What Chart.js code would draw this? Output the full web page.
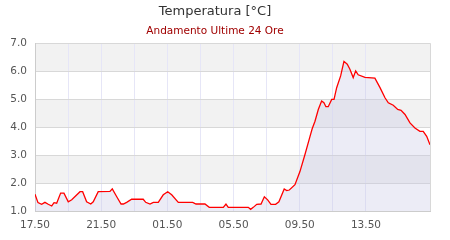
<!DOCTYPE html>
<html>
<head>
<meta charset="utf-8">
<script src="https://cdn.jsdelivr.net/npm/chart.js@4/dist/chart.umd.min.js"></script>
<style>
  html, body { margin: 0; padding: 0; background: #fff; }
</style>
</head>
<body>
<canvas id="tempChart" width="450" height="240"></canvas>
<script>
// ore trascorse dalle 17.50 (asse x) e temperature
const hours = [0, 0.18, 0.40, 0.60, 0.80, 1.01, 1.15, 1.31, 1.55, 1.75, 2.01, 2.22, 2.72, 2.88, 3.12, 3.37, 3.52, 3.82,
  4.53, 4.67, 4.94, 5.20, 5.34, 5.54, 5.84, 6.54, 6.69, 6.95, 7.15, 7.45, 7.75, 8.02, 8.26, 8.66, 9.53, 9.73,
  10.27, 10.53, 11.38, 11.54, 11.68, 12.89, 13.03, 13.19, 13.40, 13.66, 13.86, 14.06, 14.26, 14.54, 14.74,
  15.06, 15.21, 15.37, 15.71, 16.01, 16.31, 16.62, 16.75, 16.92, 17.12, 17.32, 17.46, 17.58, 17.72, 17.93,
  18.07, 18.23, 18.47, 18.67, 18.87, 19.03, 19.23, 19.38, 19.53, 19.94, 20.54, 20.85, 21.15, 21.35, 21.65,
  21.92, 22.12, 22.36, 22.66, 22.96, 23.26, 23.46, 23.67, 23.87];
const temps = [1.6, 1.3, 1.24, 1.31, 1.24, 1.18, 1.3, 1.28, 1.64, 1.64, 1.33, 1.4, 1.69, 1.69, 1.33, 1.25, 1.33, 1.69,
  1.7, 1.79, 1.51, 1.25, 1.25, 1.31, 1.42, 1.42, 1.31, 1.25, 1.31, 1.31, 1.58, 1.69, 1.58, 1.31, 1.31, 1.25,
  1.25, 1.13, 1.13, 1.25, 1.13, 1.13, 1.06, 1.13, 1.24, 1.25, 1.51, 1.4, 1.24, 1.24, 1.33,
  1.79, 1.73, 1.75, 1.94, 2.41, 3.01, 3.67, 3.94, 4.21, 4.63, 4.93, 4.87, 4.73, 4.73, 4.99,
  4.99, 5.41, 5.83, 6.35, 6.25, 6.07, 5.77, 6.01, 5.87, 5.78, 5.75, 5.41, 5.05, 4.87, 4.78,
  4.63, 4.6, 4.45, 4.15, 3.97, 3.85, 3.85, 3.67, 3.37];
const tickLabels = ['17.50', '21.50', '01.50', '05.50', '09.50', '13.50'];
const yMin = 1, yMax = 7;

// bande alternate grigie dietro al grafico
const bandPlugin = {
  id: 'bands',
  beforeDraw(chart) {
    const { ctx, chartArea: a, scales: { y } } = chart;
    ctx.save();
    ctx.fillStyle = '#f2f2f2';
    for (let v = yMin; v < yMax; v++) {
      if (v % 2 === 0) {
        const top = y.getPixelForValue(v + 1);
        const bot = y.getPixelForValue(v);
        ctx.fillRect(a.left, top, a.right - a.left, bot - top);
      }
    }
    ctx.restore();
  }
};

new Chart(document.getElementById('tempChart'), {
  type: 'line',
  data: {
    datasets: [{
      data: hours.map((h, i) => ({ x: h, y: temps[i] })),
      borderColor: '#ff0000',
      borderWidth: 1.3,
      backgroundColor: 'rgba(200,200,230,0.35)',
      fill: 'start',
      pointRadius: 0,
      tension: 0
    }]
  },
  options: {
    responsive: false,
    animation: false,
    layout: { padding: { left: 0, right: 20, top: 0, bottom: 0 } },
    plugins: {
      legend: { display: false },
      tooltip: { enabled: false },
      title: {
        display: true,
        text: 'Temperatura [°C]',
        color: '#333',
        font: { family: 'DejaVu Sans', size: 13, weight: 'normal' },
        padding: { top: 4, bottom: 4 }
      },
      subtitle: {
        display: true,
        text: 'Andamento Ultime 24 Ore',
        color: '#a00000',
        font: { family: 'DejaVu Sans', size: 10.5 },
        padding: { top: 1, bottom: 6 }
      }
    },
    scales: {
      x: {
        type: 'linear',
        min: 0,
        max: hours[hours.length - 1],
        afterFit: s => { s.height = 29; },
        border: { display: true, color: '#cccccc' },
        grid: {
          drawTicks: false,
          color: c => (c.tick && (c.tick.value === 0 || c.tick.value > 23)) ? '#d8d8d8' : '#e6e6f7'
        },
        ticks: {
          stepSize: 2,
          autoSkip: false,
          maxRotation: 0,
          padding: 8,
          color: '#555',
          font: { family: 'DejaVu Sans', size: 10.5 },
          callback: v => (Math.abs(v % 4) < 1e-6 && v / 4 < tickLabels.length) ? tickLabels[v / 4] : ''
        }
      },
      y: {
        min: yMin,
        max: yMax,
        afterFit: s => { s.width = 35; },
        border: { display: true, color: '#cccccc' },
        grid: { drawTicks: false, color: '#d8d8d8' },
        ticks: {
          stepSize: 1,
          padding: 8,
          color: '#555',
          font: { family: 'DejaVu Sans', size: 10.5 },
          callback: v => v.toFixed(1)
        }
      }
    }
  },
  plugins: [bandPlugin]
});
</script>
</body>
</html>
